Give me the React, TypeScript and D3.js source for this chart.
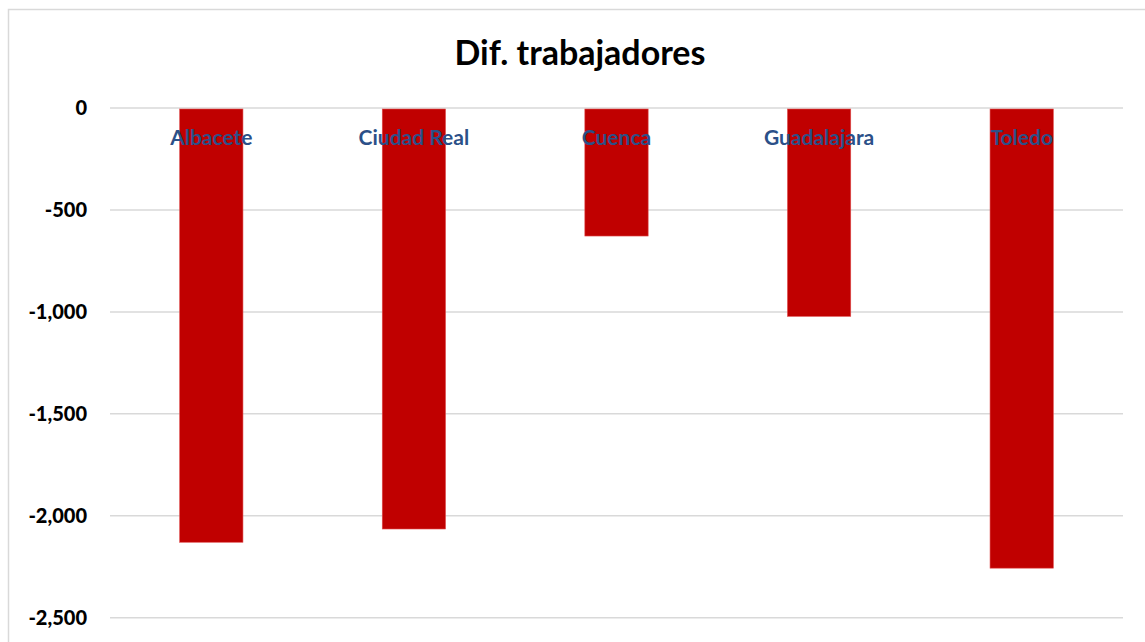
import { useEffect, useRef } from "react";
import * as d3 from "d3";

const provinces = ["Albacete", "Ciudad Real", "Cuenca", "Guadalajara", "Toledo"];
const difTrabajadores = [-2130, -2065, -628, -1022, -2257];
const yTicks = [0, -500, -1000, -1500, -2000, -2500];

export default function App() {
  const svgRef = useRef<SVGSVGElement | null>(null);

  useEffect(() => {
    if (!svgRef.current) return;
    const width = 1145;
    const height = 642;
    const margin = { top: 108, right: 22, bottom: 24, left: 110 };
    const w = width - margin.left - margin.right;
    const font = "Lato, 'Open Sans', sans-serif";

    const svg = d3.select(svgRef.current);
    svg.selectAll("*").remove();
    svg.attr("width", width).attr("height", height);

    svg.append("rect").attr("width", width).attr("height", height).attr("fill", "#fff");

    // chart frame (runs off the right/bottom of the picture)
    svg.append("rect")
      .attr("x", 8.5)
      .attr("y", 9.5)
      .attr("width", 1160)
      .attr("height", 700)
      .attr("fill", "none")
      .attr("stroke", "#d9d9d9")
      .attr("stroke-width", 1.5);

    svg.append("text")
      .attr("x", 580)
      .attr("y", 65)
      .attr("text-anchor", "middle")
      .attr("font-family", font)
      .attr("font-size", 34)
      .attr("font-weight", 700)
      .attr("fill", "#000")
      .text("Dif. trabajadores");

    const g = svg.append("g").attr("transform", `translate(${margin.left},${margin.top})`);

    const x = d3.scaleBand<string>()
      .domain(provinces)
      .range([0, w])
      .paddingInner(0.6875)
      .paddingOuter(0.34375);

    const y = d3.scaleLinear().domain([0, -2500]).range([0, 509.7]);
    const fmt = (d: number) => d3.format(",")(d).replace("\u2212", "-");

    // gridlines
    g.append("g")
      .selectAll("line")
      .data(yTicks)
      .enter()
      .append("line")
      .attr("x1", 0)
      .attr("x2", w)
      .attr("y1", d => y(d))
      .attr("y2", d => y(d))
      .attr("stroke", "#d9d9d9")
      .attr("stroke-width", 1.5);

    // y labels
    g.append("g")
      .selectAll("text")
      .data(yTicks)
      .enter()
      .append("text")
      .attr("x", -23)
      .attr("y", d => y(d))
      .attr("dy", "0.36em")
      .attr("text-anchor", "end")
      .attr("font-family", font)
      .attr("font-size", 20)
      .attr("font-weight", 900)
      .attr("fill", "#000")
      .text(d => fmt(d));

    // bars
    g.selectAll("rect.bar")
      .data(provinces.map((p, i) => ({ p, v: difTrabajadores[i] })))
      .enter()
      .append("rect")
      .attr("class", "bar")
      .attr("x", d => x(d.p)!)
      .attr("y", y(0) + 1)
      .attr("width", x.bandwidth())
      .attr("height", d => y(d.v) - y(0) - 1)
      .attr("fill", "#c00000")
      .attr("stroke", "#e05050")
      .attr("stroke-width", 0.6);

    // category labels sit just under the zero line
    g.append("g")
      .selectAll("text")
      .data(provinces)
      .enter()
      .append("text")
      .attr("x", d => x(d)! + x.bandwidth() / 2)
      .attr("y", 37)
      .attr("text-anchor", "middle")
      .attr("font-family", font)
      .attr("font-size", 21)
      .attr("font-weight", 700)
      .attr("fill", "#2b5088")
      .text(d => d);
  }, []);

  return <svg ref={svgRef} style={{ position: "absolute", left: 0, top: 0 }} />;
}
